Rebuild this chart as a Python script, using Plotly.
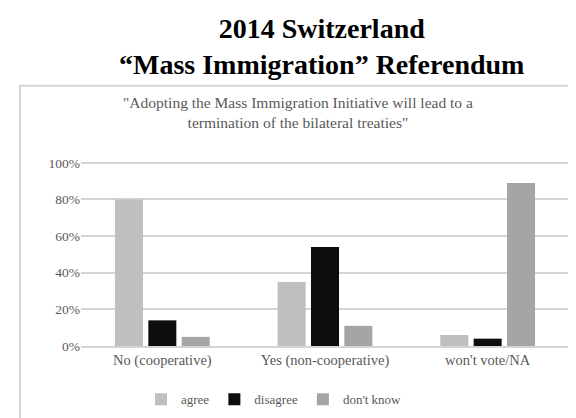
import plotly.graph_objects as go

# Dados
categorias = ['No (cooperative)', 'Yes (non-cooperative)', "won't vote/NA"]
agree = [0.80, 0.35, 0.06]
disagree = [0.14, 0.54, 0.04]
dont_know = [0.05, 0.11, 0.89]

series = [
    ('agree', agree, '#bfbfbf'),
    ('disagree', disagree, '#0d0d0d'),
    ("don't know", dont_know, '#a5a5a5'),
]

W, H = 576, 418
ML, MR, MT, MB = 73, 15, 153, 78
ph = H - MT - MB
pw = W - ML - MR

def px_x(x):
    return (x - ML) / pw

def px_y(y):
    return (H - MB - y) / ph

fonte = 'Liberation Serif'
cinza = '#595959'

fig = go.Figure()
for nome, vals, cor in series:
    fig.add_trace(go.Bar(x=categorias, y=vals, name=nome, marker=dict(color=cor, line=dict(width=0))))

fig.update_layout(
    width=W, height=H,
    margin=dict(l=ML, r=MR, t=MT, b=MB),
    paper_bgcolor='white', plot_bgcolor='white',
    barmode='group', bargap=0.385, bargroupgap=0.16,
    font=dict(family=fonte, color=cinza, size=13),
    showlegend=True,
    legend=dict(orientation='h', x=px_x(266), xanchor='center', y=px_y(394), yanchor='middle',
                font=dict(family=fonte, size=13, color=cinza), itemwidth=30, traceorder='normal'),
    xaxis=dict(showgrid=False, showline=True, linecolor='#d4d4d4', linewidth=2,
               tickfont=dict(family=fonte, size=14.5, color=cinza), ticks=''),
    yaxis=dict(range=[0, 1.01], tickvals=[0, 0.2, 0.4, 0.6, 0.8, 1.0], tickformat='.0%',
               gridcolor='#d4d4d4', gridwidth=2,
               zeroline=False, tickfont=dict(family=fonte, size=13.5, color=cinza)),
)

# Título principal
fig.add_annotation(text='<b>2014 Switzerland<br>\u201cMass Immigration\u201d Referendum</b>',
                   xref='paper', yref='paper', x=px_x(313), y=px_y(37), xanchor='center', yanchor='middle',
                   showarrow=False, font=dict(family=fonte, size=28, color='black'))

# Subtítulo
fig.add_annotation(text='"Adopting the Mass Immigration Initiative will lead to a<br>termination of the bilateral treaties"',
                   xref='paper', yref='paper', x=px_x(290), y=px_y(104), xanchor='center', yanchor='middle',
                   showarrow=False, font=dict(family=fonte, size=15.5, color=cinza))

# Moldura do gráfico
fig.add_shape(type='rect', xref='paper', yref='paper',
              x0=px_x(12), x1=px_x(590), y0=px_y(430), y1=px_y(77),
              line=dict(color='#d4d4d4', width=2), fillcolor='rgba(0,0,0,0)', layer='below')

fig.write_html('out.html')
